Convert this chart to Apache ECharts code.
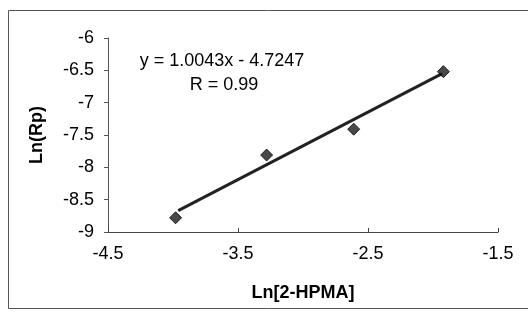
<!DOCTYPE html>
<html>
<head>
<meta charset="utf-8">
<script src="https://cdn.jsdelivr.net/npm/echarts@6/dist/echarts.min.js"></script>
<style>
html,body{margin:0;padding:0;background:#fff;}
#chart{width:528px;height:320px;}
</style>
</head>
<body>
<div id="chart"></div>
<script>
// Data
var xValues = [-3.98, -3.28, -2.61, -1.92];
var yValues = [-8.78, -7.81, -7.41, -6.52];
var trendX = [-3.96, -1.93];
var trendY = [-8.67, -6.55];
var xTicks = [-4.5, -3.5, -2.5, -1.5];
var yTicks = [-9, -8.5, -8, -7.5, -7, -6.5, -6];
var equationText = 'y = 1.0043x - 4.7247';
var rText = 'R = 0.99';
var xTitle = 'Ln[2-HPMA]';
var yTitle = 'Ln(Rp)';

var font = '"Liberation Sans", Arial, sans-serif';
var chart = echarts.init(document.getElementById('chart'), null, {renderer: 'canvas'});

var points = xValues.map(function (x, i) { return [x, yValues[i]]; });
var trend = trendX.map(function (x, i) { return [x, trendY[i]]; });

chart.setOption({
  backgroundColor: '#fff',
  animation: false,
  grid: {left: 108, right: 30, top: 38, bottom: 88, containLabel: false},
  xAxis: {
    type: 'value',
    min: xTicks[0], max: xTicks[xTicks.length - 1], interval: 1,
    axisLine: {show: true, onZero: false, lineStyle: {color: '#444', width: 1}},
    axisTick: {show: true, inside: true, length: 4, lineStyle: {color: '#444'}},
    splitLine: {show: false},
    axisLabel: {color: '#000', fontFamily: font, fontSize: 18, margin: 13},
    name: xTitle, nameLocation: 'middle', nameGap: 52,
    nameTextStyle: {color: '#000', fontFamily: font, fontSize: 18, fontWeight: 'bold'}
  },
  yAxis: {
    type: 'value',
    min: yTicks[0], max: yTicks[yTicks.length - 1], interval: 0.5,
    axisLine: {show: true, onZero: false, lineStyle: {color: '#555', width: 1}},
    axisTick: {show: true, inside: false, length: 4, lineStyle: {color: '#555'}},
    splitLine: {show: false},
    axisLabel: {color: '#000', fontFamily: font, fontSize: 18, margin: 14},
    name: yTitle, nameLocation: 'middle', nameGap: 62, nameRotate: 90,
    nameTextStyle: {color: '#000', fontFamily: font, fontSize: 18, fontWeight: 'bold'}
  },
  graphic: [
    {type: 'rect', left: 6, top: 8, z: -1, shape: {width: 540, height: 298},
     style: {fill: 'none', stroke: '#555', lineWidth: 1}},
    {type: 'text', x: 222, y: 61, style: {text: equationText, fontFamily: font, fontSize: 18, fill: '#000', textAlign: 'center', textVerticalAlign: 'middle'}},
    {type: 'text', x: 224, y: 85, style: {text: rText, fontFamily: font, fontSize: 18, fill: '#000', textAlign: 'center', textVerticalAlign: 'middle'}}
  ],
  series: [
    {
      type: 'line', data: trend, symbol: 'none', silent: true,
      lineStyle: {color: '#222', width: 3}, z: 2
    },
    {
      type: 'scatter', data: points, symbol: 'diamond', symbolSize: 12,
      itemStyle: {color: '#1a1a1a', borderColor: '#000', borderWidth: 1}, z: 3
    }
  ]
});
</script>
</body>
</html>
